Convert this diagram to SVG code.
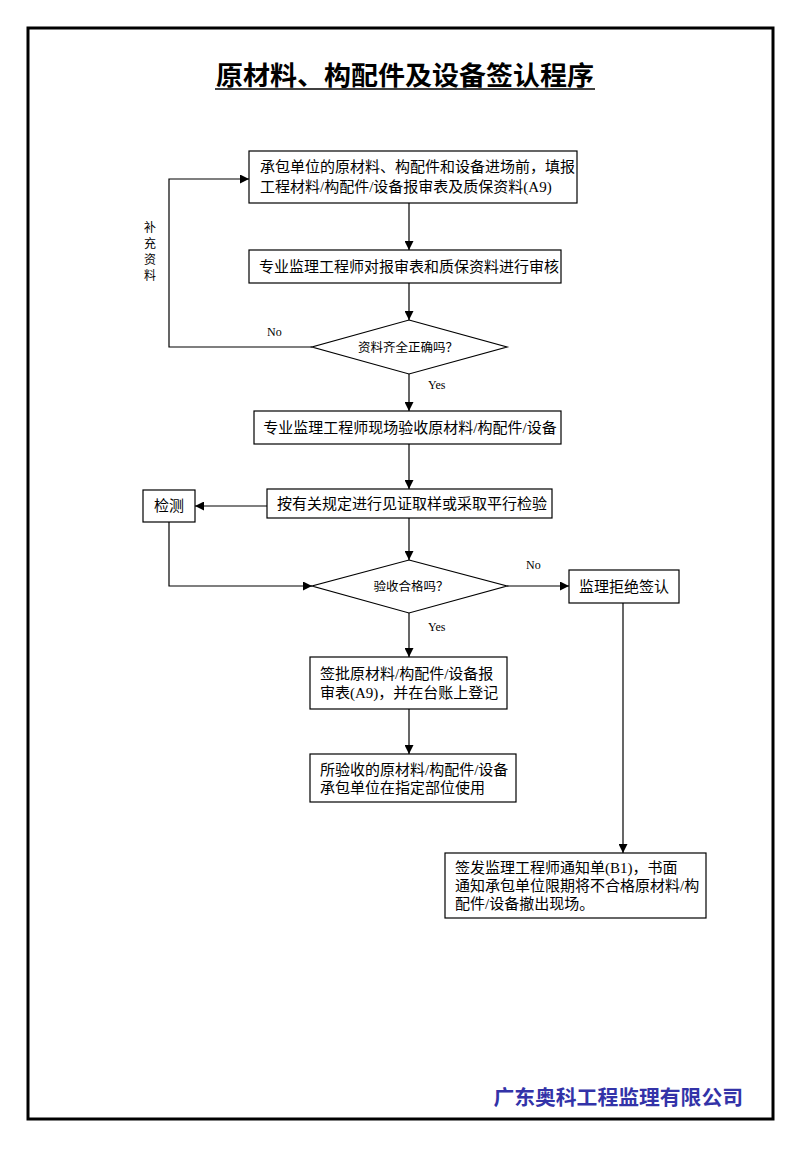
<svg xmlns="http://www.w3.org/2000/svg" width="800" height="1155" viewBox="0 0 800 1155">
<style>
.box{fill:#fff;stroke:#000;stroke-width:1.2}
.t{font-family:"Liberation Serif","Noto Sans CJK SC",serif;font-size:15px;fill:#000}
.c{text-anchor:middle}
.d{font-family:"Noto Sans CJK SC",sans-serif;font-size:12.5px;fill:#000;text-anchor:middle}
.lbl{font-family:"Liberation Serif",serif;font-size:12px;fill:#000}
.ln{fill:none;stroke:#000;stroke-width:1.2}
</style>
<defs>
<marker id="ah" viewBox="0 0 10 10" refX="10" refY="5" markerWidth="9" markerHeight="9" markerUnits="userSpaceOnUse" orient="auto">
<path d="M0,0 L10,5 L0,10 z" fill="#000"/>
</marker>
</defs>
<rect x="0" y="0" width="800" height="1155" fill="#fff"/>
<rect x="28" y="28" width="745" height="1091" fill="none" stroke="#000" stroke-width="3"/>
<g id="title">
<text x="405" y="85" font-family="Liberation Serif,'Noto Sans CJK SC',serif" font-size="26" font-weight="bold" text-anchor="middle" textLength="378" lengthAdjust="spacingAndGlyphs">原材料、构配件及设备签认程序</text>
<line x1="215" y1="89" x2="595" y2="89" stroke="#000" stroke-width="1.5"/>
</g>
<g id="connectors">
<path class="ln" d="M409,203 V250" marker-end="url(#ah)"/>
<path class="ln" d="M409,283 V320" marker-end="url(#ah)"/>
<path class="ln" d="M312,347 H169 V179 H249" marker-end="url(#ah)"/>
<path class="ln" d="M409,374 V411" marker-end="url(#ah)"/>
<path class="ln" d="M409,444 V489" marker-end="url(#ah)"/>
<path class="ln" d="M267,506 H195" marker-end="url(#ah)"/>
<path class="ln" d="M169,522 V586 H312" marker-end="url(#ah)"/>
<path class="ln" d="M409,518 V560" marker-end="url(#ah)"/>
<path class="ln" d="M507,586 H569" marker-end="url(#ah)"/>
<path class="ln" d="M623,603 V853" marker-end="url(#ah)"/>
<path class="ln" d="M409,613 V657" marker-end="url(#ah)"/>
<path class="ln" d="M409,709 V754" marker-end="url(#ah)"/>
<text class="lbl" x="267" y="336">No</text>
<text class="lbl" x="428" y="389">Yes</text>
<text class="lbl" x="526" y="569">No</text>
<text class="lbl" x="428" y="631">Yes</text>
<g font-family="'Noto Sans CJK SC',sans-serif" font-size="12" text-anchor="middle">
<text x="150" y="232">补</text>
<text x="150" y="248">充</text>
<text x="150" y="264">资</text>
<text x="150" y="280">料</text>
</g>
</g>
<g id="n1">
<rect class="box" x="249" y="151" width="328" height="52"/>
<text class="t" x="260" y="172">承包单位的原材料、构配件和设备进场前，填报</text>
<text class="t" x="260" y="192">工程材料/构配件/设备报审表及质保资料(A9)</text>
</g>
<g id="n2">
<rect class="box" x="249" y="250" width="312" height="33"/>
<text class="t c" x="409" y="272">专业监理工程师对报审表和质保资料进行审核</text>
</g>
<g id="d1">
<polygon class="box" points="409,320 507,347 409,374 312,347"/>
<text class="d" x="408" y="352">资料齐全正确吗？</text>
</g>
<g id="n3">
<rect class="box" x="254" y="411" width="307" height="33"/>
<text class="t c" x="410" y="433">专业监理工程师现场验收原材料/构配件/设备</text>
</g>
<g id="n4">
<rect class="box" x="267" y="489" width="285" height="29"/>
<text class="t c" x="412" y="509">按有关规定进行见证取样或采取平行检验</text>
</g>
<g id="n5">
<rect class="box" x="143" y="490" width="52" height="32"/>
<text class="t c" x="169" y="511">检测</text>
</g>
<g id="d2">
<polygon class="box" points="409,560 507,586 409,613 312,586"/>
<text class="d" x="411" y="591">验收合格吗？</text>
</g>
<g id="n6">
<rect class="box" x="569" y="570" width="110" height="33"/>
<text class="t c" x="624" y="592">监理拒绝签认</text>
</g>
<g id="n7">
<rect class="box" x="310" y="657" width="197" height="52"/>
<text class="t" x="320" y="679">签批原材料/构配件/设备报</text>
<text class="t" x="320" y="698">审表(A9)，并在台账上登记</text>
</g>
<g id="n8">
<rect class="box" x="310" y="754" width="206" height="48"/>
<text class="t" x="320" y="775">所验收的原材料/构配件/设备</text>
<text class="t" x="320" y="793">承包单位在指定部位使用</text>
</g>
<g id="n9">
<rect class="box" x="445" y="853" width="261" height="65"/>
<text class="t" x="455" y="873">签发监理工程师通知单(B1)，书面</text>
<text class="t" x="455" y="891">通知承包单位限期将不合格原材料/构</text>
<text class="t" x="455" y="909">配件/设备撤出现场。</text>
</g>
<g id="footer">
<text x="743" y="1105" font-family="'Noto Sans CJK SC',sans-serif" font-size="20.8" font-weight="bold" fill="#3333a8" text-anchor="end">广东奥科工程监理有限公司</text>
</g>
</svg>
